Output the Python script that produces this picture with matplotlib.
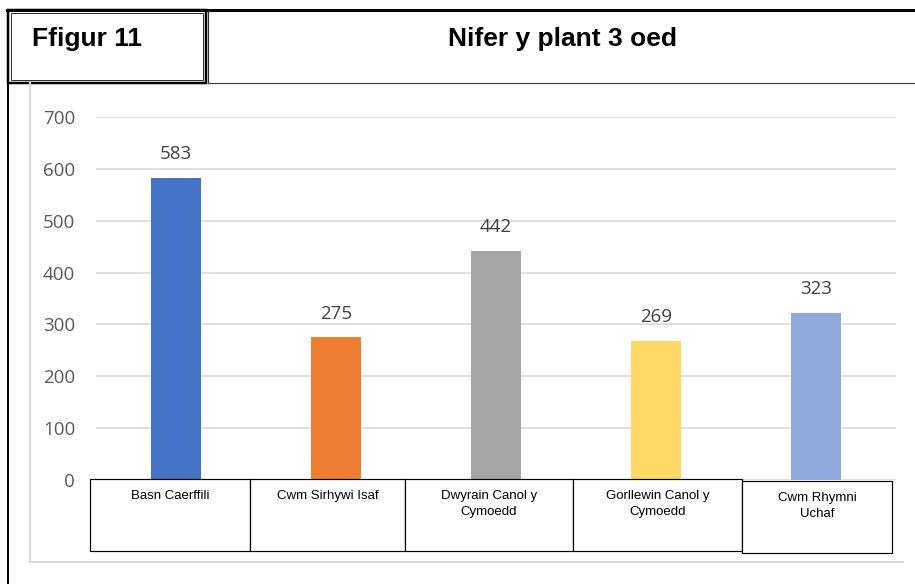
import matplotlib.pyplot as plt
from matplotlib.patches import Rectangle

# data
areas = ["Basn Caerffili", "Cwm Sirhywi Isaf", "Dwyrain Canol y\nCymoedd",
         "Gorllewin Canol y\nCymoedd", "Cwm Rhymni\nUchaf"]
children = [583, 275, 442, 269, 323]
bar_colors = ["#4472C4", "#ED7D31", "#A5A5A5", "#FFD966", "#8FAADC"]
y_ticks = [0, 100, 200, 300, 400, 500, 600, 700]

W, H = 915, 584
fig = plt.figure(figsize=(W / 100, H / 100), dpi=100)

# main chart axes (pixel box: x 96..896, y 117..480)
ax = fig.add_axes([96 / W, (H - 480) / H, 800 / W, 363 / H])
x = range(len(children))
ax.bar(x, children, width=0.31, color=bar_colors, zorder=2)
ax.set_xlim(-0.5, 4.5)
ax.set_ylim(0, 700)
ax.set_yticks(y_ticks)
ax.set_xticks([])
ax.grid(axis="y", color="#D9D9D9", linewidth=1.2, zorder=0)
for s in ax.spines.values():
    s.set_visible(False)
ax.tick_params(axis="y", length=0, pad=15, labelsize=13.5, labelcolor="#595959")
for lab in ax.get_yticklabels():
    lab.set_fontfamily("Open Sans")
for i, v in zip(x, children):
    ax.annotate(str(v), (i, v), xytext=(0, 17), textcoords="offset points",
                ha="center", va="center", fontsize=13.5, color="#404040",
                family="Open Sans")

# overlay in pixel coords for frame, header and label boxes
ov = fig.add_axes([0, 0, 1, 1], zorder=5)
ov.set_xlim(0, W)
ov.set_ylim(H, 0)
ov.axis("off")
ov.patch.set_alpha(0)

px = 0.72  # one pixel in points
# light chart area border
ov.plot([30, 30], [83, 562], color="#D9D9D9", lw=2 * px)
ov.plot([30, 903], [562, 562], color="#D9D9D9", lw=2 * px)

# outer left line and top thick line
ov.plot([8, 8], [10, H], color="black", lw=2 * px)
ov.plot([7, W], [10, 10], color="black", lw=3 * px)

# header boxes
ov.add_patch(Rectangle((8, 10), 198, 73, fill=False, ec="black", lw=2.5 * px))
ov.add_patch(Rectangle((11, 13), 192, 67, fill=False, ec="#333333", lw=1 * px))
ov.plot([208, 208], [10, 83], color="#333333", lw=1.2 * px)
ov.plot([208, W], [83, 83], color="#444444", lw=1.2 * px)

ov.text(32, 39, "Ffigur 11", ha="left", va="center", fontsize=19,
        fontweight="bold", family="Liberation Sans")
ov.text(563, 39, "Nifer y plant 3 oed", ha="center", va="center",
        fontsize=19, fontweight="bold", family="Liberation Sans")

# category label boxes (pixel layout)
box_edges = [(90, 250, 479, 551), (250, 405, 479, 551), (405, 573, 479, 551),
             (573, 742, 479, 551), (742, 892, 481, 553)]
for (l, r, t, b), name in zip(box_edges, areas):
    ov.add_patch(Rectangle((l, t), r - l, b - t, facecolor="white",
                           edgecolor="black", lw=1.2 * px))
    ov.text((l + r) / 2, t + 11, name, ha="center", va="top", fontsize=9.5,
            family="Liberation Sans", linespacing=1.45)

fig.savefig("out.png", dpi=100)
